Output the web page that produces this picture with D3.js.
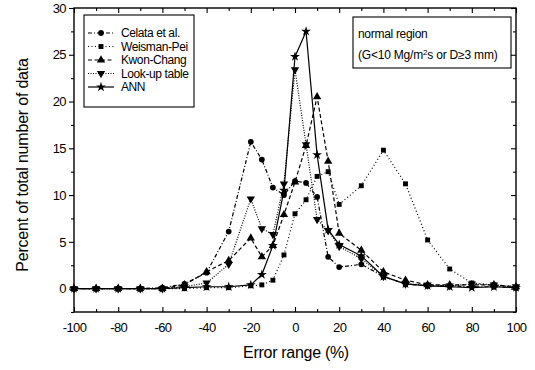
<!DOCTYPE html>
<html>
<head>
<meta charset="utf-8">
<script src="https://cdn.jsdelivr.net/npm/d3@7"></script>
<style>
  body { margin: 0; background: #fff; }
  svg { font-family: "Liberation Sans", Arial, sans-serif; }
  .axis path, .axis line { stroke: #000; stroke-width: 1.1; }
  .axis text { font-size: 13px; fill: #000; letter-spacing: -0.6px; }
</style>
</head>
<body>
<svg id="chart" width="535" height="370"></svg>
<script>
// error range (%) at which each series was sampled
const errorRange = [-100, -90, -80, -70, -60, -50, -40, -30, -20, -15, -10, -5, 0, 5, 10, 15, 20, 30, 40, 50, 60, 70, 80, 90, 100];

const celata  = [0, 0, 0, 0, 0.1, 0.5, 1.7, 6.1, 15.7, 13.8, 10.8, 10.0, 11.5, 11.3, 9.8, 3.4, 2.3, 2.6, 1.3, 0.5, 0.3, 0.3, 0.2, 0.2, 0.1];
const weisman = [0, 0, 0, 0, 0, 0, 0.1, 0.1, 0.3, 0.4, 0.9, 3.6, 8.0, 9.5, 12.0, 12.5, 9.0, 11.0, 14.8, 11.2, 5.2, 2.1, 0.6, 0.4, 0.1];
const kwon    = [0, 0, 0, 0, 0, 0.4, 1.8, 3.0, 5.4, 3.4, 4.6, 7.9, 11.4, 15.3, 20.5, 13.6, 5.9, 4.1, 1.8, 0.9, 0.4, 0.4, 0.4, 0.4, 0.2];
const lookup  = [0, 0, 0, 0, 0, 0.2, 0.6, 2.6, 9.6, 6.4, 5.8, 11.2, 23.4, 15.4, 7.4, 6.2, 4.5, 3.2, 1.3, 0.5, 0.4, 0.3, 0.5, 0.4, 0.2];
const ann     = [0, 0, 0, 0, 0, 0.1, 0.2, 0.2, 0.4, 1.5, 4.6, 10.5, 24.8, 27.5, 14.3, 6.3, 4.7, 3.5, 1.3, 0.5, 0.3, 0.2, 0.1, 0.2, 0.1];

const seriesNames = ['Celata et al.', 'Weisman-Pei', 'Kwon-Chang', 'Look-up table', 'ANN'];
const xTicks = [-100, -80, -60, -40, -20, 0, 20, 40, 60, 80, 100];
const yTicks = [0, 5, 10, 15, 20, 25, 30];

const series = [
  { name: seriesNames[0], values: celata,  dash: '4,2,1,2', symbol: d3.symbolCircle,   size: 26, rot: 0 },
  { name: seriesNames[1], values: weisman, dash: '1,2.5',   symbol: d3.symbolSquare,   size: 24, rot: 0 },
  { name: seriesNames[2], values: kwon,    dash: '4,2.5',   symbol: d3.symbolTriangle, size: 30, rot: 0 },
  { name: seriesNames[3], values: lookup,  dash: '1,1.5',   symbol: d3.symbolTriangle, size: 30, rot: 180 },
  { name: seriesNames[4], values: ann,     dash: null,      symbol: d3.symbolStar,     size: 30, rot: 0 }
];

const margin = { top: 8, right: 19, bottom: 58, left: 74 };
const svg = d3.select('#chart');
const W = +svg.attr('width'), H = +svg.attr('height');
const width = W - margin.left - margin.right;
const height = H - margin.top - margin.bottom;

const g = svg.append('g').attr('transform', 'translate(' + margin.left + ',' + margin.top + ')');

const x = d3.scaleLinear().domain([-100, 100]).range([0, width]);
const y = d3.scaleLinear().domain([-2.5, 30]).range([height, 0]);
const plain = d => String(d); // hyphen minus like the original

// axes: left ticks outward, the rest inward
g.append('g').attr('class', 'axis')
  .call(d3.axisLeft(y).tickValues(yTicks).tickSize(5).tickPadding(3).tickFormat(plain))
  .call(a => a.select('.domain').remove());
g.append('g').attr('class', 'axis')
  .call(d3.axisLeft(y).tickValues(d3.range(-2.5, 30, 5)).tickSize(3).tickFormat(''))
  .call(a => a.select('.domain').remove());

g.append('g').attr('class', 'axis').attr('transform', 'translate(0,' + height + ')')
  .call(d3.axisBottom(x).tickValues(xTicks).tickSizeInner(-5).tickSizeOuter(0).tickPadding(11).tickFormat(plain))
  .call(a => a.select('.domain').remove());
g.append('g').attr('class', 'axis').attr('transform', 'translate(0,' + height + ')')
  .call(d3.axisBottom(x).tickValues(d3.range(-90, 100, 20)).tickSize(-3).tickFormat(''))
  .call(a => a.select('.domain').remove());

g.append('g').attr('class', 'axis')
  .call(d3.axisTop(x).tickValues(xTicks).tickSize(-5).tickFormat(''))
  .call(a => a.select('.domain').remove());
g.append('g').attr('class', 'axis')
  .call(d3.axisTop(x).tickValues(d3.range(-90, 100, 20)).tickSize(-3).tickFormat(''))
  .call(a => a.select('.domain').remove());

g.append('g').attr('class', 'axis').attr('transform', 'translate(' + width + ',0)')
  .call(d3.axisRight(y).tickValues(yTicks).tickSize(-5).tickFormat(''))
  .call(a => a.select('.domain').remove());
g.append('g').attr('class', 'axis').attr('transform', 'translate(' + width + ',0)')
  .call(d3.axisRight(y).tickValues(d3.range(-2.5, 30, 5)).tickSize(-3).tickFormat(''))
  .call(a => a.select('.domain').remove());

g.append('rect').attr('width', width).attr('height', height)
  .attr('fill', 'none').attr('stroke', '#000').attr('stroke-width', 1.4);

// series
const line = d3.line().x((d, i) => x(errorRange[i])).y(d => y(d));

series.forEach(s => {
  g.append('path').datum(s.values)
    .attr('d', line)
    .attr('fill', 'none').attr('stroke', '#000').attr('stroke-width', 1.2)
    .attr('stroke-dasharray', s.dash);
  g.selectAll(null).data(s.values).enter().append('path')
    .attr('d', d3.symbol().type(s.symbol).size(s.size))
    .attr('transform', (d, i) => 'translate(' + x(errorRange[i]) + ',' + y(d) + ') rotate(' + s.rot + ')')
    .attr('fill', '#000');
});

// legend
const lg = svg.append('g').attr('transform', 'translate(84,15)');
lg.append('rect').attr('width', 110).attr('height', 92)
  .attr('fill', '#fff').attr('stroke', '#000').attr('stroke-width', 1.1);
series.forEach((s, i) => {
  const yy = 18 + i * 13.5;
  lg.append('line').attr('x1', 4).attr('x2', 30).attr('y1', yy).attr('y2', yy)
    .attr('stroke', '#000').attr('stroke-width', 1.2).attr('stroke-dasharray', s.dash);
  lg.append('path').attr('d', d3.symbol().type(s.symbol).size(s.size))
    .attr('transform', 'translate(17,' + yy + ') rotate(' + s.rot + ')').attr('fill', '#000');
  lg.append('text').attr('x', 37).attr('y', yy + 4).attr('font-size', 12)
    .attr('letter-spacing', -0.4).text(s.name);
});

// annotation box
const nb = svg.append('g').attr('transform', 'translate(353,17)');
nb.append('rect').attr('width', 158).attr('height', 51)
  .attr('fill', '#fff').attr('stroke', '#000').attr('stroke-width', 1.1);
nb.append('text').attr('x', 5).attr('y', 21).attr('font-size', 12).attr('letter-spacing', -0.3).text('normal region');
const t2 = nb.append('text').attr('x', 5).attr('y', 42).attr('font-size', 12).attr('letter-spacing', -0.2);
t2.append('tspan').text('(G<10 Mg/m');
t2.append('tspan').attr('dy', -4).attr('font-size', 8).text('2');
t2.append('tspan').attr('dy', 4).text('s or D\u22653 mm)');

// axis titles
svg.append('text').attr('x', 296).attr('y', 358).attr('text-anchor', 'middle')
  .attr('font-size', 16).attr('letter-spacing', -0.3).text('Error range (%)');
svg.append('text').attr('transform', 'translate(28,165) rotate(-90)').attr('text-anchor', 'middle')
  .attr('font-size', 16).attr('letter-spacing', -0.2).text('Percent of total number of data');
</script>
</body>
</html>
